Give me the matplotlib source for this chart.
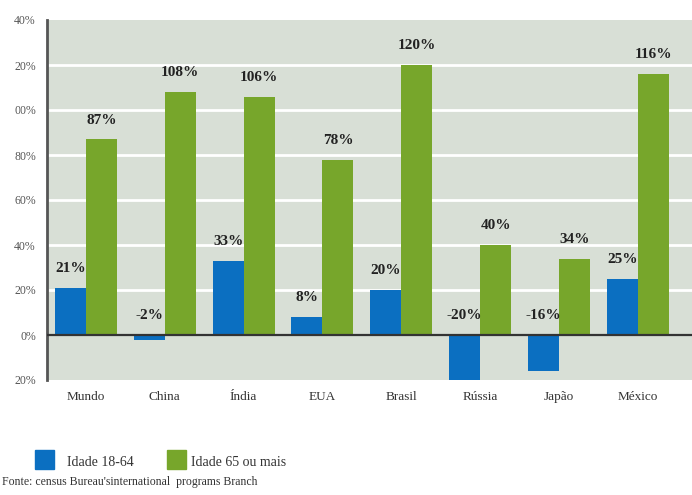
import matplotlib.pyplot as plt
import matplotlib.patches as mpatches
import numpy as np

paises = ["Mundo", "China", "Índia", "EUA", "Brasil", "Rússia", "Japão", "México"]
idade_18_64 = [21, -2, 33, 8, 20, -20, -16, 25]
idade_65_mais = [87, 108, 106, 78, 120, 40, 34, 116]
ticks = [-20, 0, 20, 40, 60, 80, 100, 120, 140]
tick_labels = ["20%", "0%", "20%", "40%", "60%", "80%", "00%", "20%", "40%"]

azul = "#0b6fc1"
verde = "#77a62b"
fundo = "#d8dfd6"
serif = ["Liberation Serif", "DejaVu Serif"]

W, H = 692, 495
fig = plt.figure(figsize=(6.92, 4.95), dpi=100)
ax = fig.add_axes([47 / W, 115 / H, 1 - 47 / W, 360 / H])
ax.set_facecolor(fundo)

x = np.arange(len(paises))
w = 0.393

b1 = ax.bar(x - w / 2, idade_18_64, w, color=azul, zorder=3)
b2 = ax.bar(x + w / 2, idade_65_mais, w, color=verde, zorder=3)

# rótulos de valor
for xi, v in zip(x - w / 2, idade_18_64):
    ax.text(xi, max(v, 0) + 8.5, f"{v}%", ha="center", va="center",
            fontsize=11, fontweight="bold", family=serif, color="#222222", zorder=4)
for xi, v in zip(x + w / 2, idade_65_mais):
    ax.text(xi, v + 8.5, f"{v}%", ha="center", va="center",
            fontsize=11, fontweight="bold", family=serif, color="#222222", zorder=4)

ax.set_xlim(-0.495, 7.69)
ax.set_ylim(-20, 140)

for g in [20, 40, 60, 80, 100, 120]:
    ax.axhline(g, color="white", lw=2, zorder=1)
ax.axhline(0, color="#333333", lw=1.6, zorder=4)

ax.set_yticks(ticks)
ax.set_yticklabels(tick_labels, family=serif, fontsize=8.5, color="#555555")
ax.set_xticks(x)
ax.set_xticklabels(paises, family=serif, fontsize=9.5, color="#333333")
ax.tick_params(axis="both", length=0)
ax.tick_params(axis="y", pad=8)
ax.tick_params(axis="x", pad=8)

for s in ["top", "right", "bottom"]:
    ax.spines[s].set_visible(False)
ax.spines["left"].set_color("#555555")
ax.spines["left"].set_linewidth(2)

# legenda
legenda = [(35, 67, azul, "Idade 18-64"), (167, 191, verde, "Idade 65 ou mais")]
for x0, xt, cor, texto in legenda:
    fig.patches.append(mpatches.Rectangle((x0 / W, 1 - 469 / H), 19 / W, 19 / H,
                                          transform=fig.transFigure, color=cor))
    fig.text(xt / W, 1 - 462 / H, texto, family=serif, fontsize=10,
             color="#333333", va="center")

fig.text(2 / W, 1 - 482 / H, "Fonte: census Bureau'sinternational  programs Branch",
         family=serif, fontsize=8.5, color="#333333", va="center")

fig.savefig("out.png", dpi=100)
plt.close()
